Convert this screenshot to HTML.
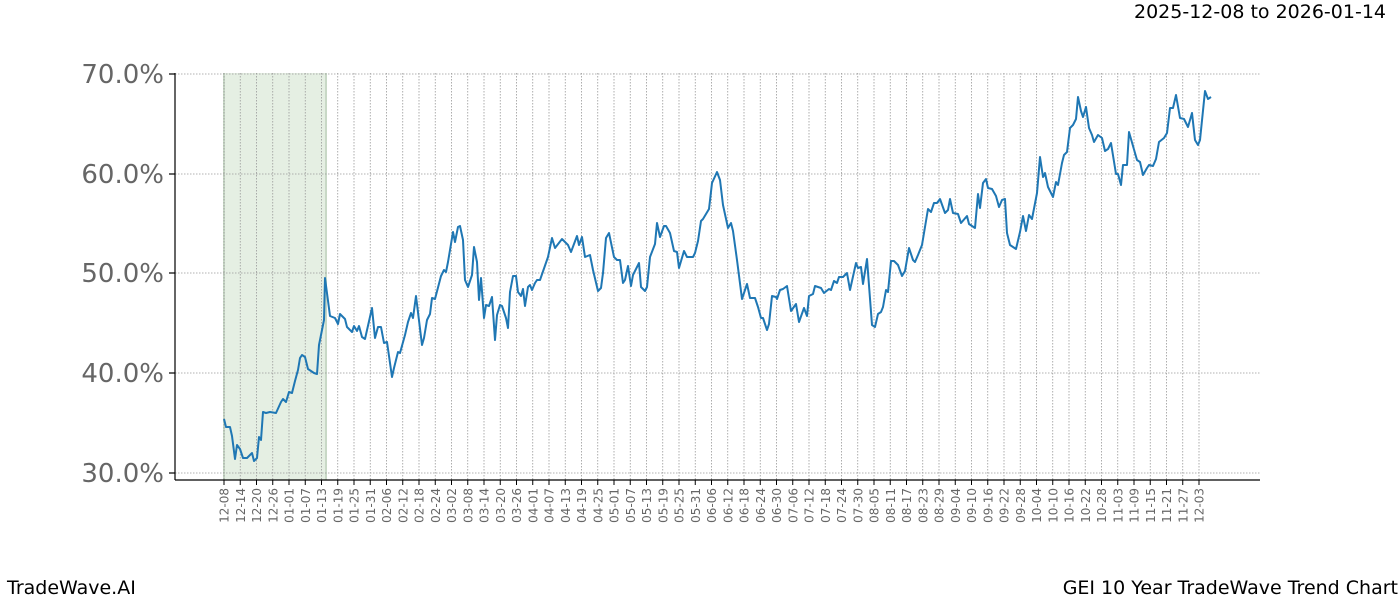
<!DOCTYPE html>
<html><head><meta charset="utf-8"><style>
body{margin:0;background:#fff;width:1400px;height:600px;overflow:hidden;font-family:"Liberation Sans","DejaVu Sans",sans-serif}
</style></head><body>
<svg width="1400" height="600" xmlns="http://www.w3.org/2000/svg" font-family="DejaVu Sans, Liberation Sans, sans-serif">
<rect width="1400" height="600" fill="#fff"/>
<rect x="224" y="73" width="102" height="407" fill="#e5efe3"/>
<line x1="224" y1="73" x2="224" y2="480" stroke="#c8d8c6" stroke-width="2"/>
<line x1="326" y1="73" x2="326" y2="480" stroke="#c8d8c6" stroke-width="2"/>
<g id="grid" stroke="#999" stroke-width="0.8" stroke-dasharray="1.5,1.5"></g>
<g stroke="#999" stroke-width="0.8" stroke-dasharray="1.5,1.5">
<line x1="175" x2="1260" y1="74" y2="74"/><line x1="175" x2="1260" y1="174" y2="174"/><line x1="175" x2="1260" y1="273" y2="273"/><line x1="175" x2="1260" y1="373" y2="373"/><line x1="175" x2="1260" y1="473" y2="473"/>
</g>
<polyline fill="none" stroke="#1f77b4" stroke-width="2" stroke-linejoin="round" points="224,419 226,427 230,427 232,436 235,459 237,445 240,449 243,458 247,458 252,453 254,461 257,458 259,437 261,440 263,412 266,413 270,412 276,413 281,402 283,399 286,402 289,392 292,393 295,381 298,370 300,358 302,355 305,357 308,369 314,373 317,374 319,345 322,330 324,320 325,278 330,316 335,318 338,324 340,314 345,319 347,327 352,332 354,326 357,331 359,326 362,337 365,339 372,308 375,338 378,327 381,327 384,343 387,342 392,377 394,368 398,352 400,353 405,335 408,322 411,313 413,318 416,296 422,345 424,338 427,320 430,314 432,298 435,299 441,276 444,270 446,272 448,262 453,232 455,242 458,227 460,226 463,240 465,280 468,287 472,275 474,247 477,262 479,300 481,278 484,318 486,305 489,306 492,297 495,340 497,315 500,305 502,306 506,318 508,328 510,292 513,276 516,276 518,292 521,296 523,289 525,306 528,287 530,285 532,290 535,283 537,280 540,280 548,257 552,238 555,248 562,239 568,245 571,252 577,236 579,245 582,237 585,257 590,255 593,270 598,291 601,288 603,273 606,238 609,233 614,257 617,260 620,260 623,283 625,280 628,266 631,286 633,275 639,263 641,287 645,291 647,287 650,257 655,244 657,223 660,237 664,226 666,226 670,233 674,251 677,252 679,268 684,251 687,257 693,257 695,253 698,241 701,221 703,219 709,209 712,183 717,172 720,180 723,205 728,228 731,223 733,231 737,260 742,299 747,284 750,298 755,298 758,307 761,318 763,318 767,330 769,324 772,296 776,297 777,299 780,290 783,289 787,286 791,311 796,304 799,322 804,308 807,316 809,296 813,294 815,286 821,288 824,293 829,289 831,290 834,281 837,283 839,277 843,277 847,273 850,290 856,263 858,268 861,267 863,284 867,259 872,325 875,327 878,314 881,312 883,307 886,290 888,292 891,261 894,261 898,265 902,276 905,271 909,248 913,260 915,262 918,255 922,245 928,209 931,212 934,203 937,203 940,199 945,213 948,210 950,199 953,213 958,214 961,223 967,216 969,224 975,228 978,194 980,208 983,183 986,179 988,188 992,189 996,196 999,207 1002,200 1005,199 1007,233 1010,245 1016,249 1020,232 1023,216 1026,231 1029,215 1032,219 1037,193 1040,157 1043,177 1045,173 1048,187 1051,193 1053,197 1056,182 1058,185 1062,163 1064,155 1067,152 1070,128 1073,125 1076,119 1078,97 1081,111 1083,117 1086,107 1089,128 1092,135 1094,142 1098,135 1102,138 1105,151 1108,149 1111,143 1116,174 1118,174 1121,185 1123,165 1127,165 1129,132 1133,146 1137,160 1140,162 1143,175 1147,168 1149,165 1153,166 1156,159 1159,142 1164,138 1167,133 1170,108 1173,108 1176,95 1180,118 1184,119 1188,127 1192,113 1195,140 1198,145 1200,140 1205,91 1208,99 1211,97"/>
<g stroke="#000" stroke-width="1.2" fill="none">
<line x1="175" y1="73" x2="175" y2="480"/><line x1="175" y1="480" x2="1260" y2="480"/>
<line x1="169" x2="175" y1="74" y2="74"/><line x1="169" x2="175" y1="174" y2="174"/><line x1="169" x2="175" y1="273" y2="273"/><line x1="169" x2="175" y1="373" y2="373"/><line x1="169" x2="175" y1="473" y2="473"/>
</g>
<g id="ticks" stroke="#000" stroke-width="1"></g>
<g font-size="26" fill="#666" text-anchor="end">
<text x="164" y="83">70.0%</text><text x="164" y="183">60.0%</text><text x="164" y="282">50.0%</text><text x="164" y="382">40.0%</text><text x="164" y="482">30.0%</text>
</g>
<g id="xl" font-size="12" fill="#666"></g>
<text x="1386" y="18" font-size="19" text-anchor="end" fill="#000">2025-12-08 to 2026-01-14</text>
<text x="7" y="594" font-size="19" fill="#000">TradeWave.AI</text>
<text x="1398" y="594" font-size="19" text-anchor="end" fill="#000">GEI 10 Year TradeWave Trend Chart</text>
<script>
var L="12-08 12-14 12-20 12-26 01-01 01-07 01-13 01-19 01-25 01-31 02-06 02-12 02-18 02-24 03-02 03-08 03-14 03-20 03-26 04-01 04-07 04-13 04-19 04-25 05-01 05-07 05-13 05-19 05-25 05-31 06-06 06-12 06-18 06-24 06-30 07-06 07-12 07-18 07-24 07-30 08-05 08-11 08-17 08-23 08-29 09-04 09-10 09-16 09-22 09-28 10-04 10-10 10-16 10-22 10-28 11-03 11-09 11-15 11-21 11-27 12-03".split(" ");
var ns="http://www.w3.org/2000/svg",g=document.getElementById("grid"),t=document.getElementById("ticks"),xl=document.getElementById("xl");
L.forEach(function(s,i){var x=224+i*16.25;
var a=document.createElementNS(ns,"line");a.setAttribute("x1",x);a.setAttribute("x2",x);a.setAttribute("y1",73);a.setAttribute("y2",480);g.appendChild(a);
var b=document.createElementNS(ns,"line");b.setAttribute("x1",x);b.setAttribute("x2",x);b.setAttribute("y1",480);b.setAttribute("y2",485);t.appendChild(b);
var c=document.createElementNS(ns,"text");c.setAttribute("transform","translate("+(x+4.5)+",488) rotate(-90)");c.setAttribute("text-anchor","end");c.textContent=s;xl.appendChild(c);});
</script>
</svg>
</body></html>
